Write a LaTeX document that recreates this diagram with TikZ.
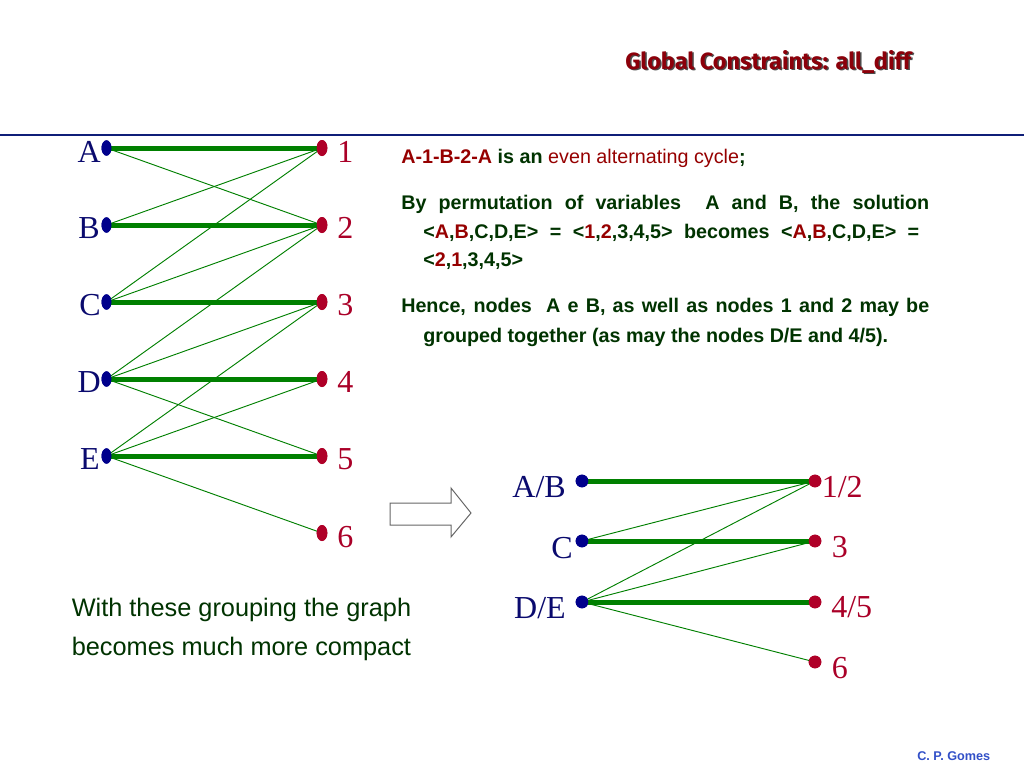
\documentclass[tikz,border=0pt]{standalone}
\usepackage{fontspec}
\setmainfont{Liberation Serif}
\setsansfont{Liberation Sans}
\newfontfamily\titlefont{Fira Sans}
\usetikzlibrary{shapes.geometric}
\definecolor{rulenavy}{RGB}{15,30,120}
\definecolor{dotblue}{RGB}{0,0,140}
\definecolor{dotred}{RGB}{175,0,40}
\definecolor{labblue}{RGB}{10,10,110}
\definecolor{labred}{RGB}{170,0,40}
\definecolor{edgegreen}{RGB}{0,128,0}
\definecolor{dkgreen}{RGB}{0,51,0}
\definecolor{dkred}{RGB}{150,0,0}
\definecolor{titlered}{RGB}{140,0,10}
\definecolor{footblue}{RGB}{50,80,200}
\newcommand\redt[1]{\textcolor{dkred}{#1}}
\begin{document}
\begin{tikzpicture}[x=0.75pt,y=-0.75pt,
  ldot/.style={ellipse, fill=dotblue, draw=none, minimum width=7.5pt, minimum height=11.5pt, inner sep=0pt},
  rdot/.style={ellipse, fill=dotred, draw=none, minimum width=8pt, minimum height=12pt, inner sep=0pt},
  sbdot/.style={circle, fill=dotblue, draw=none, minimum size=9.5pt, inner sep=0pt},
  srdot/.style={circle, fill=dotred, draw=none, minimum size=9.5pt, inner sep=0pt},
  lab/.style={font=\fontsize{24}{28}\selectfont, inner sep=0pt},
  llab/.style={lab, text=labblue, anchor=base east},
  rlab/.style={lab, text=labred, anchor=base west},
  matchedge/.style={draw=edgegreen, line width=3.75pt},
  altedge/.style={draw=edgegreen, line width=0.7pt},
  para/.style={font=\sffamily\bfseries\fontsize{14.8}{17}\selectfont, text=dkgreen, inner sep=0pt, anchor=base west},
  btext/.style={font=\sffamily\fontsize{19}{22}\selectfont, text=dkgreen, inner sep=0pt, anchor=base west},
  ttl/.style={font=\titlefont\bfseries\fontsize{17.6}{20}\selectfont, inner sep=0pt, anchor=base west}
]
\useasboundingbox (0,0) rectangle (1024,768);
\fill[white] (0,0) rectangle (1024,768);

% title
\node[ttl, text=black!70] (titleshadow) at (626.5,70.5) {Global Constraints: all\_diff};
\node[ttl, text=titlered] (title) at (625,69) {Global Constraints: all\_diff};

% rule
\draw[rulenavy, line width=2pt] (0,135) -- (1024,135);

% left graph nodes
\foreach \n/\y in {A/148,B/225,C/302,D/379,E/456}
  \node[ldot] (\n) at (106.5,\y) {};
\foreach \n/\y in {1/148,2/225,3/302,4/379,5/456,6/533}
  \node[rdot] (n\n) at (322,\y) {};

% left graph edges
\draw[altedge] (A.center) -- (n2.center);
\draw[altedge] (B.center) -- (n1.center);
\draw[altedge] (C.center) -- (n1.center);
\draw[altedge] (C.center) -- (n2.center);
\draw[altedge] (D.center) -- (n2.center);
\draw[altedge] (D.center) -- (n3.center);
\draw[altedge] (D.center) -- (n5.center);
\draw[altedge] (E.center) -- (n3.center);
\draw[altedge] (E.center) -- (n4.center);
\draw[altedge] (E.center) -- (n6.center);
\draw[matchedge] (A.center) -- (n1.center);
\draw[matchedge] (B.center) -- (n2.center);
\draw[matchedge] (C.center) -- (n3.center);
\draw[matchedge] (D.center) -- (n4.center);
\draw[matchedge] (E.center) -- (n5.center);
% redraw dots on top
\foreach \n/\y in {A/148,B/225,C/302,D/379,E/456}
  \node[ldot] at (106.5,\y) {};
\foreach \n/\y in {1/148,2/225,3/302,4/379,5/456,6/533}
  \node[rdot] at (322,\y) {};

% left graph labels
\node[llab] (lA) at (101,162) {A};
\node[llab] (lB) at (100,238) {B};
\node[llab] (lC) at (101,315) {C};
\node[llab] (lD) at (101,392) {D};
\node[llab] (lE) at (100,469) {E};
\node[rlab] (l1) at (337,162) {1};
\node[rlab] (l2) at (337,238) {2};
\node[rlab] (l3) at (337,315) {3};
\node[rlab] (l4) at (337,392) {4};
\node[rlab] (l5) at (337,469) {5};
\node[rlab] (l6) at (337,547) {6};

% paragraph text
\node[para] (p1) at (401,163) {\redt{A-1-B-2-A} is an \textcolor{dkred}{\mdseries even alternating cycle};};
\node[para] (p2) at (401,209) {\makebox[396pt][s]{By permutation of variables\ \ A and B, the solution}};
\node[para] (p3) at (423,238) {\makebox[372pt][s]{<\redt{A},\redt{B},C,D,E> = <\redt{1},\redt{2},3,4,5> becomes <\redt{A},\redt{B},C,D,E> =}};
\node[para] (p4) at (423,266.5) {<\redt{2},\redt{1},3,4,5>};
\node[para] (p5) at (401,312) {\makebox[396pt][s]{Hence, nodes\ \ A e B, as well as nodes 1 and 2 may be}};
\node[para] (p6) at (423,342) {grouped together (as may the nodes D/E and 4/5).};

% block arrow
\draw[black!60, line width=0.75pt, fill=white]
  (390,503) -- (451,503) -- (451,488) -- (471,513) -- (451,537) -- (451,525) -- (390,525) -- cycle;

% right graph nodes
\node[sbdot] (AB) at (582,481) {};
\node[sbdot] (C2) at (582,541) {};
\node[sbdot] (DE) at (582,602) {};
\node[srdot] (m12) at (815,481) {};
\node[srdot] (m3) at (815,541) {};
\node[srdot] (m45) at (815,602) {};
\node[srdot] (m6) at (815,662) {};

\draw[altedge] (C2.center) -- (m12.center);
\draw[altedge] (DE.center) -- (m12.center);
\draw[altedge] (DE.center) -- (m3.center);
\draw[altedge] (DE.center) -- (m6.center);
\draw[matchedge] (AB.center) -- (m12.center);
\draw[matchedge] (C2.center) -- (m3.center);
\draw[matchedge] (DE.center) -- (m45.center);
\node[sbdot] at (582,481) {};
\node[sbdot] at (582,541) {};
\node[sbdot] at (582,602) {};
\node[srdot] at (815,481) {};
\node[srdot] at (815,541) {};
\node[srdot] at (815,602) {};
\node[srdot] at (815,662) {};

\node[llab] (lAB) at (566,497) {A/B};
\node[llab] (lC2) at (573,558) {C};
\node[llab] (lDE) at (566,618) {D/E};
\node[rlab] (l12) at (821.5,497) {1/2};
\node[rlab] (l32) at (831.5,557) {3};
\node[rlab] (l45) at (831,617) {4/5};
\node[rlab] (l62) at (831.5,678) {6};

% bottom text
\node[btext] (b1) at (71.5,616) {With these grouping the graph};
\node[btext] (b2) at (71.5,655) {becomes much more compact};

% footer
\node[font=\sffamily\bfseries\fontsize{9.5}{11}\selectfont, text=footblue, inner sep=0pt, anchor=base west] (foot) at (917,760) {C. P. Gomes};
\end{tikzpicture}
\end{document}
